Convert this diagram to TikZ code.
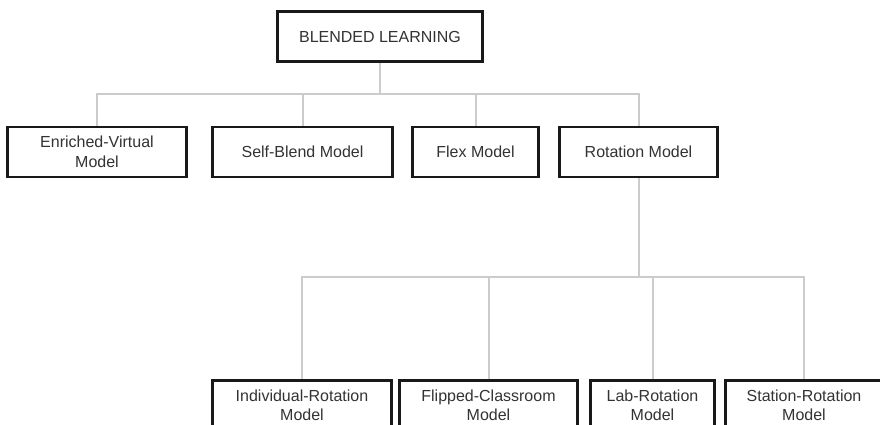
\documentclass[tikz,border=0pt]{standalone}
\usepackage{fontspec}
\setmainfont{Liberation Sans}
\begin{document}
\begin{tikzpicture}[x=1pt,y=-1pt,
  box/.style={draw=black!90, line width=1.9pt, fill=white, align=center, inner sep=0pt,
    font=\fontsize{16}{19.5}\selectfont, text=black!80},
  conn/.style={draw=black!20, line width=2pt}]
\useasboundingbox (0,0) rectangle (880,424);
\clip (0,0) rectangle (880,424);
% nodes
\node[box, minimum width=204pt, minimum height=49pt] (bl) at (380,36.5) {BLENDED LEARNING};
\node[box, minimum width=178pt, minimum height=49pt] (ev) at (97,152) {Enriched-Virtual\\Model};
\node[box, minimum width=179pt, minimum height=49pt] (sb) at (302.5,152) {Self-Blend Model};
\node[box, minimum width=125pt, minimum height=49pt] (fx) at (475.5,152) {Flex Model};
\node[box, minimum width=157pt, minimum height=49pt] (rm) at (638.5,152) {Rotation Model};
\node[box, minimum width=178pt, minimum height=49pt] (ir) at (302,405.5) {Individual-Rotation\\Model};
\node[box, minimum width=177pt, minimum height=49pt] (fc) at (488.5,405.5) {Flipped-Classroom\\Model};
\node[box, minimum width=123pt, minimum height=49pt] (lr) at (652.5,405.5) {Lab-Rotation\\Model};
\node[box, minimum width=156pt, minimum height=49pt] (sr) at (804,405.5) {Station-Rotation\\Model};
\coordinate (j1) at (380,94);
\coordinate (j2) at (638.5,277);
% connectors
\draw[conn] (bl.south) -- (j1);
\draw[conn] (ev.north) -- (ev.north |- j1) -- (rm.north |- j1) -- (rm.north);
\draw[conn] (sb.north) -- (sb.north |- j1);
\draw[conn] (fx.north) -- (fx.north |- j1);
\draw[conn] (rm.south) -- (j2);
\draw[conn] (ir.north) -- (ir.north |- j2) -- (sr.north |- j2) -- (sr.north);
\draw[conn] (fc.north) -- (fc.north |- j2);
\draw[conn] (lr.north) -- (lr.north |- j2);
% redraw box borders over connector ends
\foreach \n in {bl,ev,sb,fx,rm,ir,fc,lr,sr}{\draw[black!90, line width=1.9pt] (\n.north west) rectangle (\n.south east);}
\end{tikzpicture}
\end{document}
